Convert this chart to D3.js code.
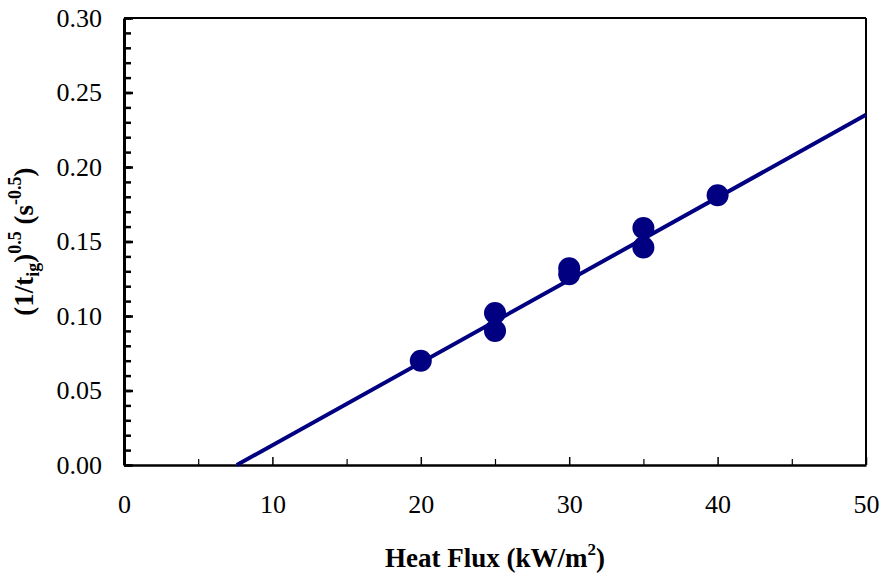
<!DOCTYPE html>
<html>
<head>
<meta charset="utf-8">
<script src="https://cdn.jsdelivr.net/npm/d3@7"></script>
<style>
  body { margin: 0; background: #fff; }
  text { font-family: "Liberation Serif", "Times New Roman", serif; }
</style>
</head>
<body>
<svg id="chart" width="888" height="575"></svg>
<script>
// measured points (heat flux, (1/tig)^0.5)
var heatFlux = [20, 25, 25, 30, 30, 35, 35, 40];
var ignValue = [0.070, 0.102, 0.090, 0.132, 0.128, 0.159, 0.146, 0.181];
// fitted line end points
var fitX = [7.6, 50];
var fitY = [0.0, 0.235];
var xTicks = [0, 10, 20, 30, 40, 50];
var yTicks = [0, 0.05, 0.10, 0.15, 0.20, 0.25, 0.30];

var svg = d3.select("#chart");
var plotLeft = 124, plotRight = 866, plotTop = 18, plotBottom = 465;
var navy = "#000080";

var xScale = d3.scaleLinear().domain([0, 50]).range([plotLeft, plotRight]);
var yScale = d3.scaleLinear().domain([0, 0.30]).range([plotBottom, plotTop]);

// frame top + right
svg.append("line").attr("x1", plotLeft).attr("x2", plotRight).attr("y1", plotTop).attr("y2", plotTop)
    .attr("stroke", "#000").attr("stroke-width", 2);
svg.append("line").attr("x1", plotRight).attr("x2", plotRight).attr("y1", plotTop).attr("y2", plotBottom)
    .attr("stroke", "#000").attr("stroke-width", 2);

// y minor ticks
svg.append("g")
    .attr("transform", "translate(" + plotLeft + ",0)")
    .call(d3.axisLeft(yScale).tickValues(d3.range(0, 0.301, 0.01)).tickSizeInner(-7).tickSizeOuter(0).tickFormat(""))
    .call(function(g) { g.select(".domain").remove(); })
    .selectAll("line").attr("stroke-width", 2.5);

// y major ticks + labels
var yAxis = svg.append("g")
    .attr("transform", "translate(" + plotLeft + ",0)")
    .call(d3.axisLeft(yScale).tickValues(yTicks).tickSizeInner(-9).tickSizeOuter(0).tickPadding(22)
        .tickFormat(d3.format(".2f")));
yAxis.select(".domain").attr("stroke-width", 3);
yAxis.selectAll("line").attr("stroke-width", 2.5);
yAxis.selectAll("text").attr("font-size", 26).attr("fill", "#000");

// x minor ticks
svg.append("g")
    .attr("transform", "translate(0," + plotBottom + ")")
    .call(d3.axisBottom(xScale).tickValues([5, 15, 25, 35, 45]).tickSizeInner(-6).tickSizeOuter(0).tickFormat(""))
    .call(function(g) { g.select(".domain").remove(); })
    .selectAll("line").attr("stroke-width", 1.2);

// x major ticks + labels
var xAxis = svg.append("g")
    .attr("transform", "translate(0," + plotBottom + ")")
    .call(d3.axisBottom(xScale).tickValues(xTicks).tickSizeInner(-8).tickSizeOuter(0).tickPadding(30)
        .tickFormat(d3.format("d")));
xAxis.select(".domain").attr("stroke-width", 2.5);
xAxis.selectAll("line").attr("stroke-width", 1.5);
xAxis.selectAll("text").attr("font-size", 26).attr("fill", "#000");

// fit line
var fitData = fitX.map(function(x, i) { return [x, fitY[i]]; });
svg.append("path")
    .datum(fitData)
    .attr("d", d3.line().x(function(d) { return xScale(d[0]); }).y(function(d) { return yScale(d[1]); }))
    .attr("stroke", navy)
    .attr("stroke-width", 4)
    .attr("fill", "none");

// points
var pts = heatFlux.map(function(x, i) { return [x, ignValue[i]]; });
svg.append("g")
    .selectAll("circle")
    .data(pts)
    .enter()
    .append("circle")
    .attr("cx", function(d) { return xScale(d[0]); })
    .attr("cy", function(d) { return yScale(d[1]); })
    .attr("r", 11)
    .attr("fill", navy);

// x title
var xt = svg.append("text")
    .attr("x", (plotLeft + plotRight) / 2)
    .attr("y", 567)
    .attr("text-anchor", "middle")
    .attr("font-size", 27)
    .attr("font-weight", "bold");
xt.append("tspan").text("Heat Flux (kW/m");
xt.append("tspan").attr("font-size", 17).attr("dy", -12).text("2");
xt.append("tspan").attr("dy", 12).text(")");

// y title
var yt = svg.append("text")
    .attr("transform", "translate(33," + ((plotTop + plotBottom) / 2) + ") rotate(-90)")
    .attr("text-anchor", "middle")
    .attr("font-size", 27)
    .attr("font-weight", "bold");
yt.append("tspan").text("(1/t");
yt.append("tspan").attr("font-size", 18).attr("dy", 6).text("ig");
yt.append("tspan").attr("dy", -6).text(")");
yt.append("tspan").attr("font-size", 18).attr("dy", -12).text("0.5");
yt.append("tspan").attr("dy", 12).text(" (s");
yt.append("tspan").attr("font-size", 18).attr("dy", -12).text("-0.5");
yt.append("tspan").attr("dy", 12).text(")");
</script>
</body>
</html>
